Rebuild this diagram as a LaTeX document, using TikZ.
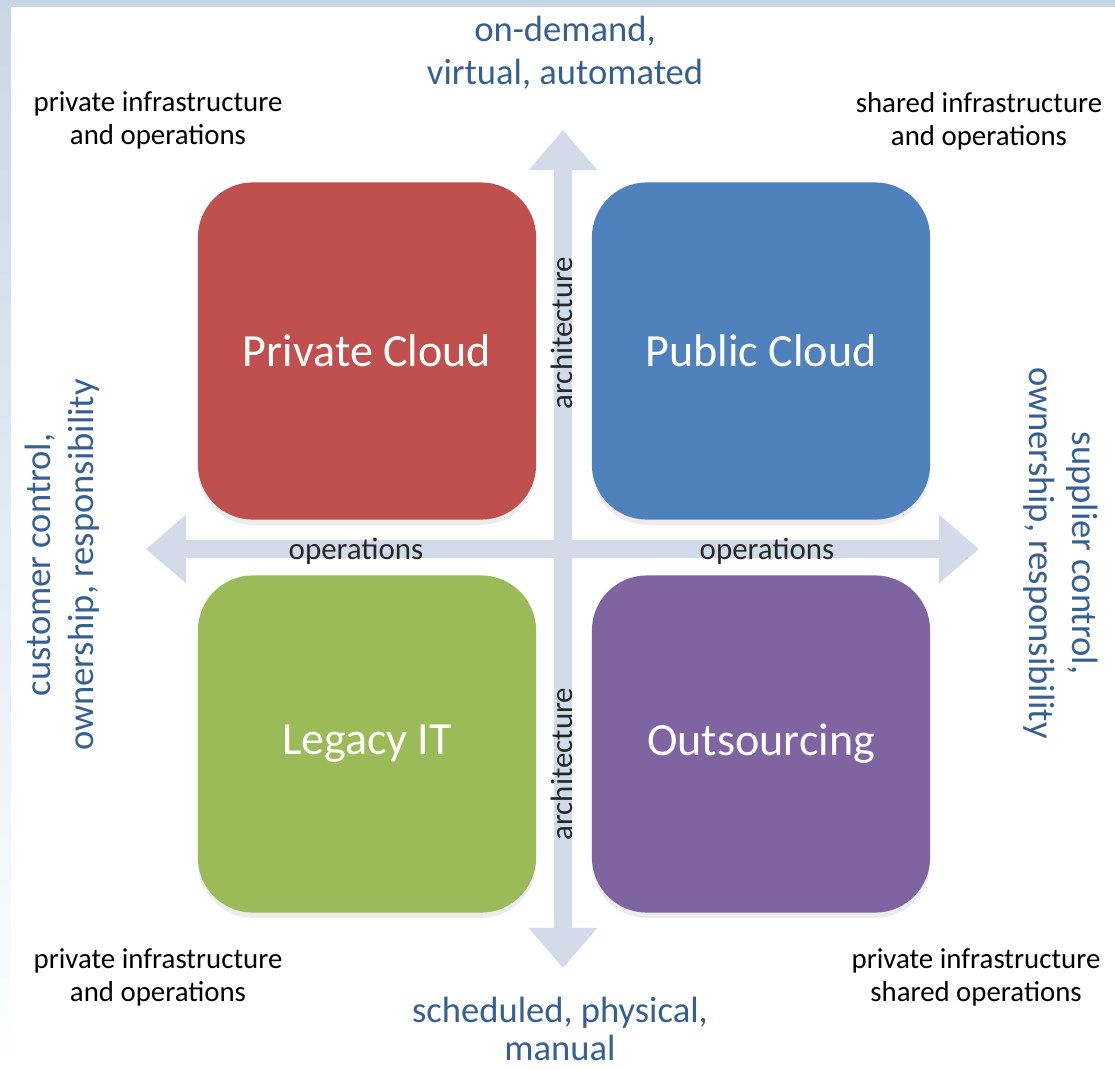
\documentclass[tikz,border=0pt]{standalone}
\usepackage{fontspec}
\setmainfont{Carlito}
\usetikzlibrary{arrows.meta,shadows}

\definecolor{privred}{RGB}{192,80,77}
\definecolor{pubblue}{RGB}{79,129,189}
\definecolor{leggreen}{RGB}{155,187,89}
\definecolor{outpurple}{RGB}{128,100,162}
\definecolor{axisgray}{RGB}{211,219,234}
\definecolor{labelblue}{RGB}{55,96,146}
\definecolor{bandblue}{RGB}{200,214,230}

\begin{document}
\begin{tikzpicture}[x=0.01cm, y=-0.01cm, quad_box/.style={rounded corners=0.55cm, minimum width=3.38cm, minimum height=3.37cm, inner sep=0pt, text=white, font=\fontsize{13.1}{15}\selectfont, drop shadow={opacity=0.15, shadow xshift=0pt, shadow yshift=-1.5pt}}, side_label/.style={text=labelblue, align=center, inner sep=0pt, font=\fontsize{10.4}{12.2}\selectfont}, corner_label/.style={align=center, inner sep=0pt, font=\fontsize{8.2}{9.4}\selectfont}, axis_label/.style={text=black!85, inner sep=0pt, font=\fontsize{8.8}{10}\selectfont}, axis_arrow/.style={draw=axisgray, line width=0.18cm, {Triangle[width=0.66cm,length=0.4cm]}-{Triangle[width=0.66cm,length=0.4cm]}}]

	\useasboundingbox (0,0) rectangle (1115,1069);
	\fill[top color=bandblue, bottom color=white] (0,0) rectangle (1115,1069);
	\fill[white] (11,7) rectangle (1115,1069);

	\coordinate (w) at (146,549);
	\coordinate (e) at (979,549);
	\coordinate (n) at (563,130);
	\coordinate (s) at (563,968);
	\draw[axis_arrow] (w) -- (e);
	\draw[axis_arrow] (n) -- (s);

	\node[quad_box, fill=privred] (pc) at (367,351) {Private Cloud};
	\node[quad_box, fill=pubblue] (pub) at (761,351) {Public Cloud};
	\node[quad_box, fill=leggreen] (leg) at (367,744) {Legacy IT};
	\node[quad_box, fill=outpurple] (out) at (761,744) {Outsourcing};

	\node[axis_label] (op1) at (356,551) {operations};
	\node[axis_label] (op2) at (767,551) {operations};
	\node[axis_label, rotate=90] (ar1) at (562,333) {architecture};
	\node[axis_label, rotate=90] (ar2) at (562,764) {architecture};

	\node[side_label] (top) at (565,53) {on-demand,\\virtual, automated};
	\node[side_label, font=\fontsize{10.4}{10.8}\selectfont] (bot) at (560,1029) {scheduled, physical,\\manual};
	\node[side_label, rotate=90] (lft) at (62,565) {customer control,\\ownership, responsibility};
	\node[side_label, rotate=-90] (rgt) at (1061,553) {supplier control,\\ownership, responsibility};

	\node[corner_label] (tl) at (158,120) {private infrastructure\\and operations};
	\node[corner_label] (tr) at (979,121) {shared infrastructure\\and operations};
	\node[corner_label] (bl) at (158,977) {private infrastructure\\and operations};
	\node[corner_label] (br) at (976,977) {private infrastructure\\shared operations};
\end{tikzpicture}
\end{document}
